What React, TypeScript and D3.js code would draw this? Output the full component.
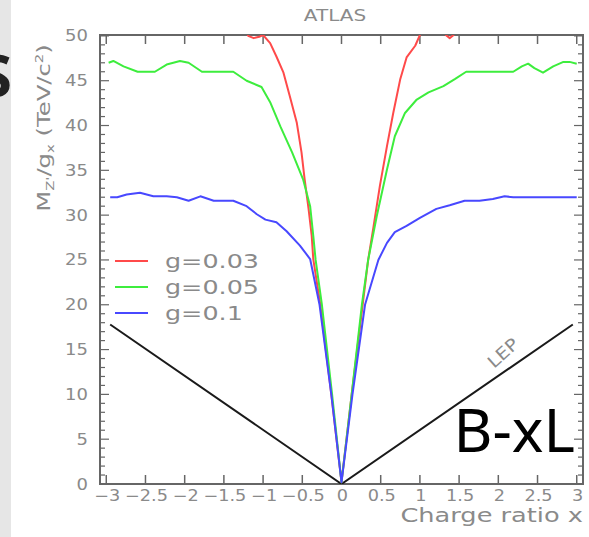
import React from "react";
import * as d3 from "d3";

const xTicks = [-3, -2.5, -2, -1.5, -1, -0.5, 0, 0.5, 1, 1.5, 2, 2.5, 3];
const xTickLabels = ["\u22123", "\u22122.5", "\u22122", "\u22121.5", "\u22121", "\u22120.5", "0", "0.5", "1", "1.5", "2", "2.5", "3"];
const yMajorTicks = [0, 5, 10, 15, 20, 25, 30, 35, 40, 45, 50];
const yMinorTicks = d3.range(0, 51, 1);

const redSeries: [number, number][] = [
  [-1.3, 52], [-1.19, 50.0], [-1.12, 49.75], [-1.05, 49.9], [-1.0, 50.1], [-0.91, 49.2], [-0.83, 47.7],
  [-0.74, 45.9], [-0.66, 43.3], [-0.57, 40.3], [-0.51, 37.0], [-0.47, 34.0], [-0.42, 30.7],
  [-0.38, 27.7], [-0.36, 25.1], [-0.27, 20], [-0.13, 10], [0, 0.2], [0.13, 10], [0.27, 20],
  [0.34, 25], [0.41, 28.8], [0.49, 33.3], [0.58, 37.7], [0.66, 41.4], [0.75, 45.2], [0.83, 47.6],
  [0.94, 48.9], [1.0, 50.1], [1.06, 52], [1.28, 52], [1.33, 50.1], [1.38, 49.75], [1.43, 50.1], [1.5, 52],
];
const greenSeries: [number, number][] = [
  [-2.97, 47.0], [-2.91, 47.2], [-2.78, 46.6], [-2.6, 46.0], [-2.38, 46.0], [-2.23, 46.8],
  [-2.06, 47.2], [-1.95, 47.0], [-1.78, 46.0], [-1.38, 46.0], [-1.21, 45.0], [-1.02, 44.3],
  [-0.91, 42.6], [-0.78, 39.9], [-0.63, 37.0], [-0.49, 34.0], [-0.40, 31.0], [-0.36, 27.7],
  [-0.33, 25], [-0.25, 20], [-0.12, 10], [0, 0.2], [0.13, 10], [0.26, 20], [0.34, 25], [0.45, 29.9],
  [0.58, 35.1], [0.68, 38.8], [0.81, 41.4], [0.96, 42.9], [1.11, 43.7], [1.30, 44.4], [1.45, 45.2],
  [1.59, 46.0], [2.19, 46.0], [2.30, 46.6], [2.38, 46.9], [2.46, 46.4], [2.57, 45.9], [2.70, 46.6],
  [2.83, 47.1], [2.91, 47.1], [3.0, 46.9],
];
const blueSeries: [number, number][] = [
  [-2.95, 32.0], [-2.86, 32.0], [-2.74, 32.3], [-2.57, 32.5], [-2.40, 32.1], [-2.23, 32.1],
  [-2.10, 32.0], [-1.95, 31.6], [-1.80, 32.1], [-1.63, 31.6], [-1.38, 31.6], [-1.21, 31.0],
  [-1.08, 30.1], [-0.97, 29.5], [-0.83, 29.2], [-0.70, 28.2], [-0.53, 26.6], [-0.40, 25.1],
  [-0.28, 20], [-0.13, 10], [0, 0.2], [0.14, 10], [0.30, 20], [0.47, 25], [0.58, 26.9], [0.68, 28.1],
  [0.83, 28.8], [1.0, 29.7], [1.21, 30.7], [1.38, 31.1], [1.57, 31.6], [1.76, 31.6], [1.93, 31.8],
  [2.08, 32.1], [2.19, 32.0], [3.0, 32.0],
];
const lepSeries: [number, number][] = [[-2.95, 17.8], [0, 0], [2.95, 17.8]];

const legendLabels = ["g=0.03", "g=0.05", "g=0.1"];
const seriesColors = ["#ff4a4a", "#3ded3d", "#4848ff"];

const FONT = "DejaVu Sans, sans-serif";
const GRAY = "#8a8a8a";

function SText(props: { x: number; y: number; sx?: number; rot?: number; anchor?: string; size: number; fill?: string; children: React.ReactNode }) {
  const { x, y, sx = 1.2, rot = 0, anchor = "start", size, fill = GRAY, children } = props;
  return (
    <text transform={`translate(${x},${y}) rotate(${rot}) scale(${sx},1)`} textAnchor={anchor} fontFamily={FONT} fontSize={size} fill={fill}>
      {children}
    </text>
  );
}

export default function App() {
  const left = 100, right = 583, top = 35, bottom = 484;
  const x = d3.scaleLinear().domain([-3.08, 3.08]).range([left, right]);
  const y = d3.scaleLinear().domain([0, 50.1]).range([bottom, top]);
  const line = d3.line<[number, number]>().x(d => x(d[0])).y(d => y(d[1]));
  const axisCol = "#666";
  const series = [redSeries, greenSeries, blueSeries];

  return (
    <svg width={589} height={537} style={{ position: "absolute", left: 0, top: 0, background: "#fff" }}>
      <rect x={0} y={0} width={11} height={537} fill="#e6e6e6" />
      <text x={12} y={97} textAnchor="end" fontFamily="Noto Sans, sans-serif" fontSize={60} fontWeight={700} fill="#222">S</text>

      <SText x={335} y={21} anchor="middle" size={16} sx={1.25}>ATLAS</SText>

      <defs>
        <clipPath id="plotclip">
          <rect x={left} y={top} width={right - left} height={bottom - top} />
        </clipPath>
      </defs>

      <rect x={left} y={top} width={right - left} height={bottom - top} fill="none" stroke={axisCol} strokeWidth={2} />

      {xTicks.map((t, i) => (
        <g key={"xt" + i}>
          <line x1={x(t)} x2={x(t)} y1={bottom} y2={bottom - 9} stroke={axisCol} strokeWidth={1.5} />
          <line x1={x(t)} x2={x(t)} y1={top} y2={top + 9} stroke={axisCol} strokeWidth={1.5} />
          <SText x={x(t) + 1} y={501} anchor="middle" size={15} sx={1.18}>{xTickLabels[i]}</SText>
        </g>
      ))}
      {yMinorTicks.map((t, i) => {
        const major = t % 5 === 0;
        const len = major ? 9 : 5;
        return (
          <g key={"yt" + i}>
            <line x1={left} x2={left + len} y1={y(t)} y2={y(t)} stroke={axisCol} strokeWidth={1.2} />
            <line x1={right} x2={right - len} y1={y(t)} y2={y(t)} stroke={axisCol} strokeWidth={1.2} />
          </g>
        );
      })}
      {yMajorTicks.map((t, i) => (
        <SText key={"yl" + i} x={88} y={y(t) + 5.5} anchor="end" size={15} sx={1.2}>{t}</SText>
      ))}

      <SText x={583} y={522} anchor="end" size={19} sx={1.35}>Charge ratio x</SText>
      <text transform="translate(50,128) rotate(-90) scale(1.35,1)" textAnchor="middle" fontFamily={FONT} fontSize={18} fill={GRAY}>
        M<tspan fontSize={11} dy={4}>Z'</tspan><tspan dy={-4}>/g</tspan><tspan fontSize={11} dy={4}>x</tspan><tspan dy={-4}> (TeV/c</tspan><tspan fontSize={11} dy={-7}>2</tspan><tspan dy={7}>)</tspan>
      </text>

      <g clipPath="url(#plotclip)">
        <path d={line(lepSeries) || ""} fill="none" stroke="#1a1a1a" strokeWidth={2} />
        {series.map((s, i) => (
          <path key={"s" + i} d={line(s) || ""} fill="none" stroke={seriesColors[i]} strokeWidth={2} strokeLinejoin="round" />
        ))}
      </g>

      {legendLabels.map((lab, i) => (
        <g key={"lg" + i}>
          <line x1={115} x2={148} y1={261 + i * 26} y2={261 + i * 26} stroke={seriesColors[i]} strokeWidth={2} />
          <SText x={165} y={268 + i * 26} size={20} sx={1.27}>{lab}</SText>
        </g>
      ))}

      <SText x={494} y={369} rot={-42} size={17} sx={1.15}>LEP</SText>

      <text x={575} y={452} textAnchor="end" fontFamily="Noto Sans, sans-serif" fontSize={60} fill="#000">B-xL</text>
    </svg>
  );
}
